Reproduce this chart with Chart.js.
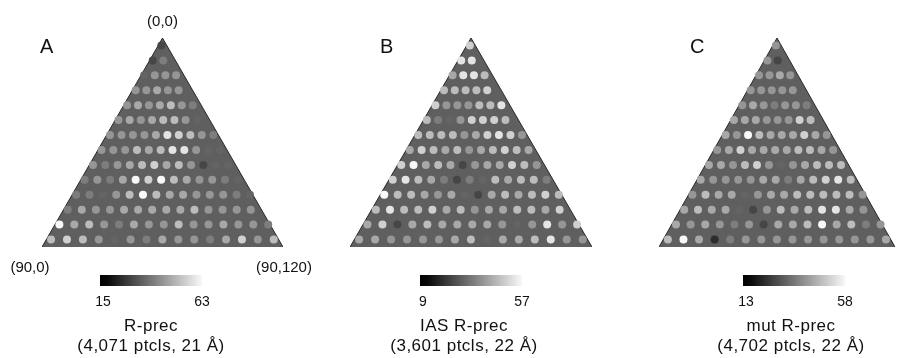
<!DOCTYPE html>
<html>
<head>
<meta charset="utf-8">
<script src="https://cdn.jsdelivr.net/npm/chart.js@4.4.1/dist/chart.umd.min.js"></script>
<style>
  html, body { margin: 0; padding: 0; background: #fff; }
  #wrap { position: relative; width: 899px; height: 358px; }
  #wrap canvas { position: absolute; left: 0; top: 0; }
</style>
</head>
<body>
<div id="wrap">
  <canvas id="painelA" width="899" height="358"></canvas>
  <canvas id="painelB" width="899" height="358"></canvas>
  <canvas id="painelC" width="899" height="358"></canvas>
</div>
<script>
// number of dots in each tilt row, apex first
const rowCounts = [1, 2, 4, 5, 7, 8, 10, 11, 12, 13, 14, 14, 15, 15];
const rotStep = 8.2; // sampling step (deg) along rot at tilt 90

// gray level of every dot (0 = darkest, 9 = white), one string per row
const rprecA = [
  '1', '13', '2444', '44544', '4545643', '45456642', '4444587643',
  '44465688422', '434567564122', '3435979654432', '33246965544432',
  '35445555564444', '956435446445443', '676424354435746'
];
const rprecB = [
  '7', '88', '5886', '66667', '7444668', '63247776', '6666457874',
  '57656456765', '795651455764', '7865313265663', '96654521565676',
  '68667564556657', '571565555424847', '554444562556844'
];
const rprecC = [
  '4', '41', '4454', '44444', '4543443', '55544476', '5496555754',
  '45755556654', '554674245666', '5444455356786', '46552455666664',
  '56552146568854', '545434155695634', '695034444444445'
];

const letters = ['A', 'B', 'C'];
const titles = ['R-prec', 'IAS R-prec', 'mut R-prec'];
const subtitles = ['(4,071 ptcls, 21 Å)', '(3,601 ptcls, 22 Å)', '(4,702 ptcls, 22 Å)'];
const scaleMin = [15, 9, 13];
const scaleMax = [63, 57, 58];
const cornerLabels = ['(0,0)', '(90,0)', '(90,120)'];

const tons = [45, 70, 100, 125, 150, 168, 188, 208, 228, 248];
const fonte = '"Liberation Sans", Arial, sans-serif';

function corCinza(nivel) {
  const g = tons[nivel];
  return `rgb(${g}, ${g}, ${g})`;
}

function montarPontos(linhas) {
  const pontos = [];
  const cores = [];
  linhas.forEach((linha, r) => {
    const tilt = (r + 0.5) * 90 / rowCounts.length;
    const passo = rotStep / Math.sin(tilt * Math.PI / 180);
    linha.split('').forEach((c, i) => {
      const rot = Math.min((i + 0.3) * passo, 120);
      pontos.push({ x: 60 + (rot - 60) * tilt / 90, y: tilt });
      cores.push(corCinza(Number(c)));
    });
  });
  return { pontos, cores };
}

// where each panel sits on the page
const layout = [
  { left: 42, right: 283, letterX: 40, barX: 100, capX: 151, corners: true },
  { left: 350, right: 592, letterX: 380, barX: 420, capX: 464, corners: false },
  { left: 659, right: 899, letterX: 690, barX: 743, capX: 791, corners: false }
];
const topo = 38, base = 247;

const textos = {
  id: 'textos',
  afterDraw(chart, args, opts) {
    const ctx = chart.ctx;
    const k = opts.indice;
    const L = layout[k];
    const area = chart.chartArea;
    ctx.save();
    ctx.fillStyle = '#111';

    ctx.font = `20px ${fonte}`;
    ctx.textAlign = 'left';
    ctx.textBaseline = 'middle';
    ctx.fillText(letters[k], L.letterX, 47);

    if (L.corners) {
      ctx.font = `15px ${fonte}`;
      ctx.textAlign = 'center';
      ctx.fillText(cornerLabels[0], (area.left + area.right) / 2, 22);
      ctx.fillText(cornerLabels[1], 30, 268);
      ctx.fillText(cornerLabels[2], 284, 268);
    }

    // barra de cores
    const bw = 102, bh = 11, by = 275;
    const grad = ctx.createLinearGradient(L.barX, 0, L.barX + bw, 0);
    grad.addColorStop(0, '#000');
    grad.addColorStop(0.08, '#0a0a0a');
    grad.addColorStop(1, '#f8f8f8');
    ctx.fillStyle = grad;
    ctx.fillRect(L.barX, by, bw, bh);

    ctx.fillStyle = '#111';
    ctx.font = `14px ${fonte}`;
    ctx.textAlign = 'center';
    ctx.fillText(String(scaleMin[k]), L.barX + 3, 302);
    ctx.fillText(String(scaleMax[k]), L.barX + bw, 302);

    ctx.font = `17px ${fonte}`;
    ctx.letterSpacing = '0.5px';
    ctx.fillText(titles[k], L.capX, 326);
    ctx.fillText(subtitles[k], L.capX, 346);
    ctx.restore();
  }
};

function criarPainel(id, linhas, k) {
  const L = layout[k];
  const { pontos, cores } = montarPontos(linhas);
  new Chart(document.getElementById(id), {
    type: 'scatter',
    data: {
      datasets: [
        {
          type: 'line',
          data: [{ x: 0, y: 90 }, { x: 60, y: 0 }, { x: 120, y: 90 }],
          borderColor: '#2a2a2a',
          borderWidth: 1,
          backgroundColor: '#5f5f5f',
          fill: { value: 90 },
          pointRadius: 0,
          tension: 0,
          order: 2
        },
        {
          data: pontos,
          pointRadius: 4,
          pointBackgroundColor: cores,
          pointBorderWidth: 0,
          clip: 8,
          order: 1
        }
      ]
    },
    options: {
      responsive: false,
      animation: false,
      layout: { padding: { left: L.left, right: 899 - L.right, top: topo, bottom: 358 - base } },
      scales: {
        x: { type: 'linear', min: 0, max: 120, display: false },
        y: { type: 'linear', min: 0, max: 90, reverse: true, display: false }
      },
      plugins: {
        legend: { display: false },
        tooltip: { enabled: false },
        textos: { indice: k }
      }
    },
    plugins: [textos]
  });
}

criarPainel('painelA', rprecA, 0);
criarPainel('painelB', rprecB, 1);
criarPainel('painelC', rprecC, 2);
</script>
</body>
</html>
